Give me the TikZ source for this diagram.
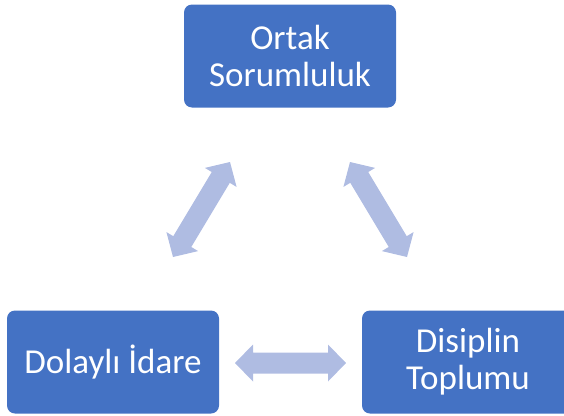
\documentclass[tikz,border=0pt]{standalone}
\usepackage{fontspec}
\setmainfont{Carlito}
\usepackage{tikz}
\usetikzlibrary{calc}

\definecolor{boxblue}{HTML}{4472C4}
\definecolor{arrowblue}{HTML}{AFBCE2}

\tikzset{
  concept/.style={fill=boxblue, text=white, rounded corners=8pt, minimum width=212pt,
    minimum height=103pt, align=center, inner sep=0pt,
    font=\fontsize{35}{37}\selectfont},
}

% fat two-headed arrow between two named coordinates
\newcommand{\fatarrow}[2]{%
  \fill[arrowblue] (#1)
    -- ($(#1)!18pt!(#2)!18.5pt!90:(#2)$) -- ($(#1)!18pt!(#2)!10.5pt!90:(#2)$)
    -- ($(#2)!18pt!(#1)!10.5pt!-90:(#1)$) -- ($(#2)!18pt!(#1)!18.5pt!-90:(#1)$)
    -- (#2)
    -- ($(#2)!18pt!(#1)!18.5pt!90:(#1)$) -- ($(#2)!18pt!(#1)!10.5pt!90:(#1)$)
    -- ($(#1)!18pt!(#2)!10.5pt!-90:(#2)$) -- ($(#1)!18pt!(#2)!18.5pt!-90:(#2)$)
    -- cycle;}

\begin{document}
\begin{tikzpicture}[x=1pt, y=-1pt]
\useasboundingbox (0,0) rectangle (564,415);
\clip (0,0) rectangle (564,415);
% boxes
\node[concept] (ortak) at (290,56) {Ortak\\Sorumluluk};
\node[concept] (dolayli) at (113,362) {Dolaylı İdare};
\node[concept] (disiplin) at (468,362) {Disiplin\\Toplumu};
% arrow ends
\coordinate (la) at (173,257);
\coordinate (lb) at (230,162);
\coordinate (ra) at (350,162);
\coordinate (rb) at (407,257);
\coordinate (ba) at (235,363);
\coordinate (bb) at (346,363);
% arrows
\fatarrow{la}{lb}
\fatarrow{ra}{rb}
\fatarrow{ba}{bb}
\end{tikzpicture}
\end{document}
